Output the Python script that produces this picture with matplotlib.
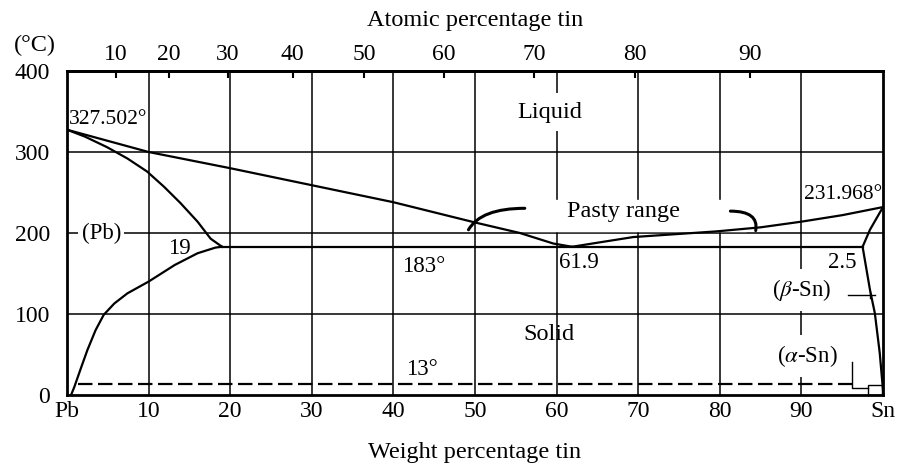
import numpy as np
import matplotlib.pyplot as plt
from matplotlib.patches import Rectangle

plt.rcParams['font.family'] = ['Liberation Serif', 'DejaVu Serif']
plt.rcParams['mathtext.fontset'] = 'stix'

# weight % tin vs temperature (deg C)
liq_pb_wt = [0, 10, 20, 30, 40, 50, 55.5, 59.6, 61.9]
liq_pb_T = [327.5, 300, 280, 259, 238, 213, 200, 187, 183]
liq_sn_wt = [61.9, 65, 69.4, 79.6, 85, 90, 95, 100]
liq_sn_T = [183, 188, 195, 202, 207, 214, 222, 232]
sol_pb_wt = [0, 2.2, 4.9, 7.4, 9.8, 11.9, 13.9, 16.0, 17.6, 19]
sol_pb_T = [327.5, 319, 306, 292, 276, 257, 237, 214, 193, 183]
solv_pb_wt = [19, 18.2, 16.0, 13.2, 10, 7.4, 5.8, 4.5, 3.5, 2.5, 1.7, 0.9, 0.5]
solv_pb_T = [183, 182, 175, 160.5, 140, 125.5, 113, 99, 80, 55.5, 33, 10, 0]
sol_sn_wt = [100, 98.4, 97.5]
sol_sn_T = [232, 204, 183]
solv_sn_wt = [97.5, 98.4, 99.0, 99.6, 100]
solv_sn_T = [183, 130, 101, 52, 6]
eut_wt = [19, 97.5]
eut_T = [183, 183]
trans_wt = [1.4, 96.2]
trans_T = [14, 14]

grid_wt = [10, 20, 30, 40, 50, 60, 70, 80, 90]
grid_T = [100, 200, 300]
bottom_ticks = [0, 10, 20, 30, 40, 50, 60, 70, 80, 90, 100]
bottom_labels = ['Pb', '10', '20', '30', '40', '50', '60', '70', '80', '90', 'Sn']
top_ticks = [10, 20, 30, 40, 50, 60, 70, 80, 90]
y_ticks = [0, 100, 200, 300, 400]

M_SN, M_PB = 118.71, 207.2


def wt2at(w):
    w = np.asarray(w, dtype=float)
    with np.errstate(divide='ignore', invalid='ignore'):
        n_sn = w / M_SN
        n_pb = (100 - w) / M_PB
        return 100 * n_sn / (n_sn + n_pb)


def at2wt(a):
    a = np.asarray(a, dtype=float)
    with np.errstate(divide='ignore', invalid='ignore'):
        m_sn = a * M_SN
        m_pb = (100 - a) * M_PB
        return 100 * m_sn / (m_sn + m_pb)


fig = plt.figure(figsize=(9.04, 4.68), dpi=100)
ax = fig.add_axes([67/904, 1-395/468, 816/904, 324/468])
ax.set_xlim(0, 100)
ax.set_ylim(0, 400)

ax.vlines(grid_wt, 0, 400, color='k', lw=1.1, zorder=0.5)
ax.hlines(grid_T, 0, 100, color='k', lw=1.1, zorder=0.5)

lw = 1.6
for xs, ys in [(liq_pb_wt, liq_pb_T), (liq_sn_wt, liq_sn_T), (sol_pb_wt, sol_pb_T),
               (solv_pb_wt, solv_pb_T), (sol_sn_wt, sol_sn_T), (solv_sn_wt, solv_sn_T),
               (eut_wt, eut_T)]:
    ax.plot(xs, ys, color='k', lw=lw, zorder=2, solid_joinstyle='round')
ax.plot(trans_wt, trans_T, color='k', lw=lw, ls=(0, (6.5, 2.5)), zorder=2)

# alpha-Sn bracket and beta-Sn marker
ax.plot([96.2, 96.2, 98.2], [41, 9, 9], color='k', lw=1.0, zorder=2)
ax.add_patch(Rectangle((98.2, 0.5), 1.7, 12, fill=False, ec='k', lw=1.0, zorder=2))
ax.plot([95.7, 99.0], [123, 123], color='k', lw=1.0, zorder=2)
ax.plot([98.4, 98.4], [120, 127], color='k', lw=1.0, zorder=2)

# white cleared area behind "Pasty range"
ax.add_patch(Rectangle((55.8, 202), 27.4, 39, color='white', zorder=1))

fs = 17.5
fn = 15.5
box = dict(facecolor='white', edgecolor='none', boxstyle='square,pad=0.35')
ax.text(59.2, 349, 'Liquid', ha='center', va='center', fontsize=fs, zorder=1, bbox=box)
ax.text(68.2, 226, 'Pasty range', ha='center', va='center', fontsize=fs, zorder=3)
ax.text(59, 75, 'Solid', ha='center', va='center', fontsize=fs, zorder=3)
ax.text(0.2, 340, '327.502°', ha='left', va='center', fontsize=fn, zorder=3)
ax.text(99.9, 248, '231.968°', ha='right', va='center', fontsize=fn, zorder=3)
ax.text(4.2, 200, '(Pb)', ha='center', va='center', fontsize=fn + 1, zorder=1,
        bbox=dict(facecolor='white', edgecolor='none', boxstyle='square,pad=0.15'))
ax.text(13.8, 181, '19', ha='center', va='center', fontsize=fn + 1, zorder=3)
ax.text(43.7, 159, '183°', ha='center', va='center', fontsize=fn + 1, zorder=3)
ax.text(60.3, 163, '61.9', ha='left', va='center', fontsize=fn + 1, zorder=3)
ax.text(96.8, 163, '2.5', ha='right', va='center', fontsize=fn + 1, zorder=3)
ax.text(90.0, 130, r'($\beta$-Sn)', ha='center', va='center', fontsize=fn + 1, zorder=1, bbox=box)
ax.text(90.7, 48, r'($\alpha$-Sn)', ha='center', va='center', fontsize=fn + 1, zorder=1, bbox=box)
ax.text(43.5, 32, '13°', ha='center', va='center', fontsize=fn + 1, zorder=3)

ax.annotate('', xy=(49.2, 204), xytext=(56.1, 230.5),
            arrowprops=dict(arrowstyle='-', lw=2.2, color='k', shrinkA=0, shrinkB=0,
                            connectionstyle='angle3,angleA=180,angleB=60'), zorder=3)
ax.annotate('', xy=(84.4, 203), xytext=(81.3, 227),
            arrowprops=dict(arrowstyle='-', lw=2.2, color='k', shrinkA=0, shrinkB=0,
                            connectionstyle='angle3,angleA=0,angleB=80'), zorder=3)

ax.set_xticks(bottom_ticks)
ax.set_xticklabels(bottom_labels)
ax.set_yticks(y_ticks)
ax.tick_params(axis='x', length=0, labelsize=17, pad=4)
ax.tick_params(axis='y', length=0, labelsize=17, pad=12)
ax.set_xlabel('Weight percentage tin', fontsize=fs, labelpad=15)
for s in ax.spines.values():
    s.set_linewidth(2)

secax = ax.secondary_xaxis('top', functions=(wt2at, at2wt))
secax.set_xticks(top_ticks)
secax.tick_params(direction='in', length=5, width=1.5, labelsize=17, pad=4)
secax.set_xlabel('Atomic percentage tin', fontsize=fs, labelpad=13)
secax.spines['top'].set_linewidth(2)

fig.text(35/904, 1-45/468, '(°C)', ha='center', va='center', fontsize=fs)

fig.savefig('out.png', dpi=100)
